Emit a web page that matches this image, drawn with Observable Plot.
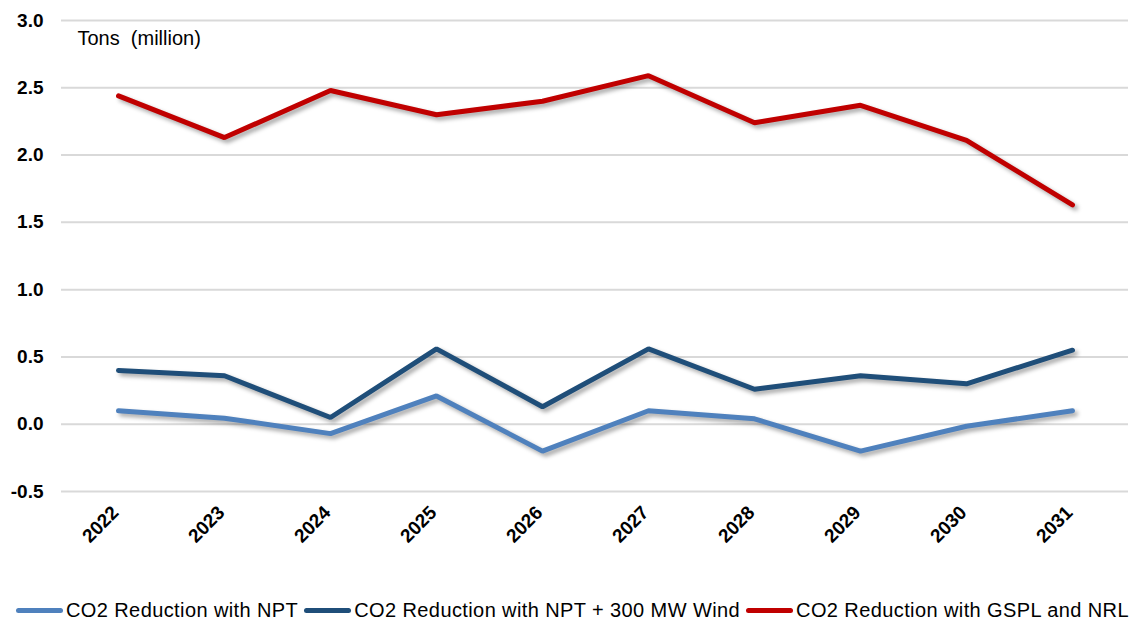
<!DOCTYPE html>
<html>
<head>
<meta charset="utf-8">
<script src="https://cdn.jsdelivr.net/npm/d3@7"></script>
<script src="https://cdn.jsdelivr.net/npm/@observablehq/plot@0.6"></script>
<style>
  html, body { margin: 0; padding: 0; background: #fff; }
  body { width: 1140px; height: 623px; overflow: hidden; font-family: "Liberation Sans", Arial, sans-serif; }
  #chart svg { display: block; }
  #chart g[aria-label="line"] { filter: drop-shadow(3px 3px 2px rgba(0,0,0,0.35)); }
  #legend { display: flex; align-items: center; margin-left: 16px; margin-top: 7px; font-size: 20px; letter-spacing: 0.4px; color: #000; white-space: nowrap; }
  #legend .item { display: flex; align-items: center; margin-right: 6px; }
  #legend .sw { width: 47px; height: 5px; border-radius: 3px; margin-right: 3px; }
</style>
</head>
<body>
<div id="chart"></div>
<div id="legend"></div>
<script>
const years = ["2022","2023","2024","2025","2026","2027","2028","2029","2030","2031"];
const seriesNames = ["CO2 Reduction with NPT", "CO2 Reduction with NPT + 300 MW Wind", "CO2 Reduction with GSPL and NRL"];
const seriesColors = ["#4f81bd", "#1f4e79", "#c00000"];
const npt =      [0.10, 0.045, -0.07, 0.21, -0.20, 0.10, 0.04, -0.20, -0.015, 0.10];
const nptWind =  [0.40, 0.36, 0.05, 0.56, 0.13, 0.56, 0.26, 0.36, 0.30, 0.55];
const gsplNrl =  [2.44, 2.13, 2.48, 2.30, 2.40, 2.59, 2.24, 2.37, 2.11, 1.63];
const yTicks = [-0.5, 0, 0.5, 1.0, 1.5, 2.0, 2.5, 3.0];
const unitLabel = "Tons  (million)";

const valuesList = [npt, nptWind, gsplNrl];
const data = [];
valuesList.forEach((vals, si) => vals.forEach((v, i) => data.push({year: years[i], value: v, series: seriesNames[si]})));

const chart = Plot.plot({
  width: 1140,
  height: 592,
  marginTop: 20,
  marginBottom: 101,
  marginLeft: 61,
  marginRight: 12,
  style: {fontFamily: "'Liberation Sans', Arial, sans-serif", background: "#fff"},
  x: {type: "point", domain: years, padding: 0.5, label: null},
  y: {domain: [-0.5, 3.0], label: null},
  color: {domain: seriesNames, range: seriesColors},
  marks: [
    Plot.gridY(yTicks, {stroke: "#d9d9d9", strokeOpacity: 1, strokeWidth: 2}),
    Plot.axisY(yTicks, {tickSize: 0, tickPadding: 18, tickFormat: d => d.toFixed(1), fontSize: 19, fontWeight: "bold", fill: "#000", label: null}),
    Plot.axisX({tickSize: 0, tickRotate: -45, tickPadding: 18, dx: -3, fontSize: 19, fontWeight: "bold", fill: "#000", label: null}),
    Plot.text([unitLabel], {frameAnchor: "top-left", dx: 16, dy: 18, text: d => d, fontSize: 20, fill: "#000", textAnchor: "start", lineAnchor: "middle", style: {letterSpacing: "1.1px"}}),
    Plot.line(data, {x: "year", y: "value", z: "series", stroke: "series", strokeWidth: 5, strokeLinejoin: "miter", strokeLinecap: "round"})
  ]
});
document.getElementById("chart").appendChild(chart);

const legend = document.getElementById("legend");
seriesNames.forEach((name, i) => {
  const item = document.createElement("div");
  item.className = "item";
  const sw = document.createElement("div");
  sw.className = "sw";
  sw.style.background = seriesColors[i];
  const t = document.createElement("span");
  t.textContent = name;
  item.appendChild(sw);
  item.appendChild(t);
  legend.appendChild(item);
});
</script>
</body>
</html>
